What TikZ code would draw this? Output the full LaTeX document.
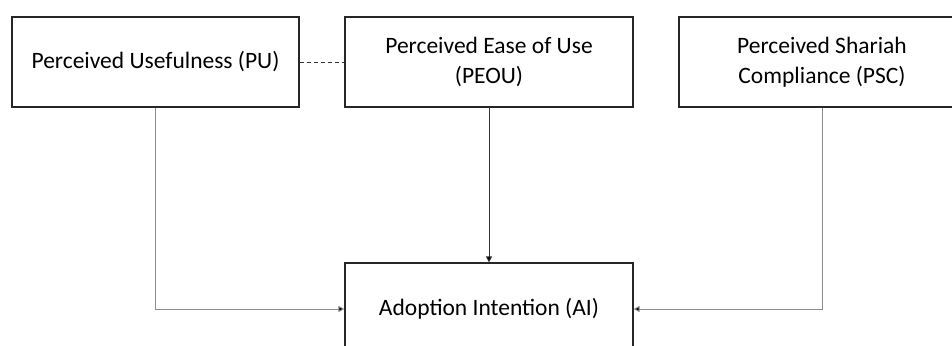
\documentclass[tikz,border=0pt]{standalone}
\usepackage{fontspec}
\setmainfont{Carlito}
\usetikzlibrary{arrows.meta}
\begin{document}
\begin{tikzpicture}[x=1pt,y=-1pt,
  box/.style={draw=black!85,line width=1.2pt,fill=white,align=center,inner sep=0pt,
    font=\fontsize{23.5}{29.5}\selectfont},
  conn/.style={draw=black!45,line width=0.9pt,-{Triangle[length=6pt,width=6pt,fill=black]}},
  conndark/.style={draw=black!80,line width=0.9pt,-{Triangle[length=6pt,width=6pt,fill=black]}}]
\useasboundingbox (0,0) rectangle (952,345);
\clip (0,0) rectangle (952,345);
\node[box,minimum width=287pt,minimum height=90pt] (pu) at (155.5,62) {Perceived Usefulness (PU)};
\node[box,minimum width=288pt,minimum height=90pt] (peou) at (489,62) {Perceived Ease of Use\\(PEOU)};
\node[box,minimum width=286pt,minimum height=90pt] (psc) at (822,62) {Perceived Shariah\\Compliance (PSC)};
\node[box,minimum width=288pt,minimum height=92pt] (ai) at (489,309) {};
\node[font=\fontsize{23.5}{29.5}\selectfont,inner sep=0pt] (ait) at (489,309) {Adoption Intention (AI)};
\draw[dashed,line width=0.9pt,black!80,dash pattern=on 4pt off 3pt] (pu.east) -- (peou.west);
\draw[conndark] (peou.south) -- (ai.north);
\draw[conn] (pu.south) |- (ai.west);
\draw[conn] (psc.south) |- (ai.east);
\end{tikzpicture}
\end{document}
